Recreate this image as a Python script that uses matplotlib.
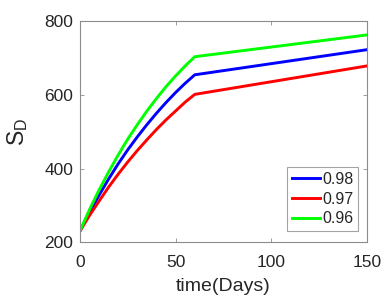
import matplotlib.pyplot as plt
import numpy as np

plt.rcParams['font.family'] = ['Liberation Sans', 'DejaVu Sans']
plt.rcParams['mathtext.fontset'] = 'custom'
plt.rcParams['mathtext.rm'] = 'Liberation Sans'

# time points (days) and S_D values
t = [0, 5, 10, 15, 20, 25, 30, 35, 40, 45, 50, 55, 60, 150]
s_098 = [231, 281, 328, 372, 413, 451, 486, 519, 550, 579, 606, 631, 654, 722]
s_097 = [231, 273, 312, 350, 385, 418, 449, 478, 506, 532, 556, 580, 601, 678]
s_096 = [231, 289, 342, 391, 437, 480, 519, 556, 590, 622, 651, 678, 703, 762]
labels = ['0.98', '0.97', '0.96']

fig = plt.figure(figsize=(3.92, 3.03), dpi=100)
ax = fig.add_axes([0.204, 0.200, 0.732, 0.731])

ax.plot(t, s_098, color='#0000ff', lw=2.1, label=labels[0])
ax.plot(t, s_097, color='#ff0000', lw=2.1, label=labels[1])
ax.plot(t, s_096, color='#00ff00', lw=2.1, label=labels[2])

ax.set_xlim(0, 150)
ax.set_ylim(200, 800)
ax.set_xticks([0, 50, 100, 150])
ax.set_yticks([200, 400, 600, 800])

gray = '#8c8c8c'
for sp in ax.spines.values():
    sp.set_color(gray)
    sp.set_linewidth(0.8)
ax.tick_params(direction='in', length=3, width=0.6, color=gray,
               top=True, right=True, labelsize=12.5, labelcolor='#262626')
ax.tick_params(axis='x', pad=9)
ax.tick_params(axis='y', pad=5)

ax.set_xlabel('time(Days)', fontsize=14, color='#262626', labelpad=6)
ax.set_ylabel(r'$\mathregular{S_D}$', fontsize=16.5, color='#262626', labelpad=10)

leg = ax.legend(loc='lower right', bbox_to_anchor=(0.97, 0.051), borderaxespad=0,
                fontsize=11.5, frameon=True, fancybox=False, handlelength=1.75,
                handletextpad=0.15, labelspacing=0.3, borderpad=0.3)
leg.get_frame().set_edgecolor(gray)
leg.get_frame().set_linewidth(0.8)
for txt in leg.get_texts():
    txt.set_color('#262626')

fig.savefig('out.png', dpi=100)
